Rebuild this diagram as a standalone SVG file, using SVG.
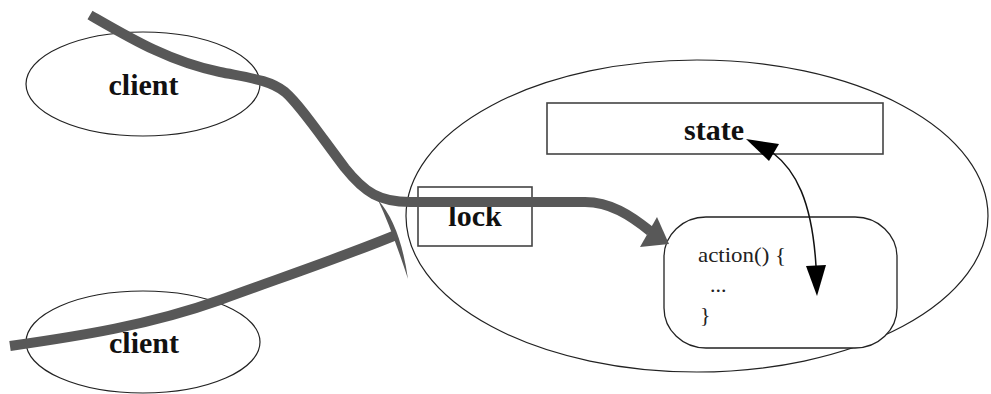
<svg xmlns="http://www.w3.org/2000/svg" width="991" height="394" viewBox="0 0 991 394">
<style>
.outline{fill:none;stroke:#222;stroke-width:1.2}
.box{fill:#fff;stroke:#444;stroke-width:1.6}
.label{font-family:"Liberation Serif","Times New Roman",serif;font-weight:bold;font-size:30px;fill:#111;text-anchor:middle}
.code{font-family:"Liberation Serif","Times New Roman",serif;font-size:22px;fill:#222}
.thread{fill:none;stroke:#585858;stroke-width:10;stroke-linecap:butt;stroke-linejoin:round}
.threadfill{fill:#585858;stroke:none}
.thin{fill:none;stroke:#111;stroke-width:1.5}
.head{fill:#000;stroke:none}
</style>
<rect width="991" height="394" fill="#fff"/>
<g id="client-top">
<ellipse class="outline" cx="143" cy="84" rx="117" ry="52"/>
<text class="label" x="143.5" y="95">client</text>
</g>
<g id="client-bottom">
<ellipse class="outline" cx="143" cy="342" rx="117" ry="51"/>
<text class="label" x="144" y="353">client</text>
</g>
<g id="object">
<ellipse class="outline" cx="697" cy="216" rx="291" ry="156"/>
</g>
<g id="state">
<rect class="box" x="547" y="103" width="336" height="51"/>
<text class="label" x="714" y="140">state</text>
</g>
<g id="lock">
<rect class="box" x="418" y="187" width="114" height="59"/>
<text class="label" x="475" y="226">lock</text>
</g>
<g id="action">
<rect x="664" y="217" width="233" height="131" rx="42" ry="40" fill="#fff" stroke="#222" stroke-width="1.3"/>
<text class="code" x="698" y="262" textLength="88" lengthAdjust="spacingAndGlyphs">action() {</text>
<text class="code" x="710" y="292">...</text>
<text class="code" x="700" y="322">}</text>
</g>
<g id="connectors">
<path class="thread" d="M90,15 C130,38 170,62 220,72 C250,78 270,80 285,92 C300,105 320,135 345,168 C365,193 380,202 410,202 L585,202 C610,202 630,215 650,231"/>
<polygon class="threadfill" points="669,244 657,217 640,247"/>
<path class="thread" d="M10,346 C80,336 150,325 220,300 C280,278 340,258 396,235"/>
<path class="threadfill" d="M378,200 Q400,224 408,279 Q392,230 378,200 Z"/>
<path class="thin" d="M773,153 C795,170 812,200 816,266"/>
<polygon class="head" points="746,139 779,144 769,161"/>
<polygon class="head" points="806,266 826,265 817,296"/>
</g>
</svg>
